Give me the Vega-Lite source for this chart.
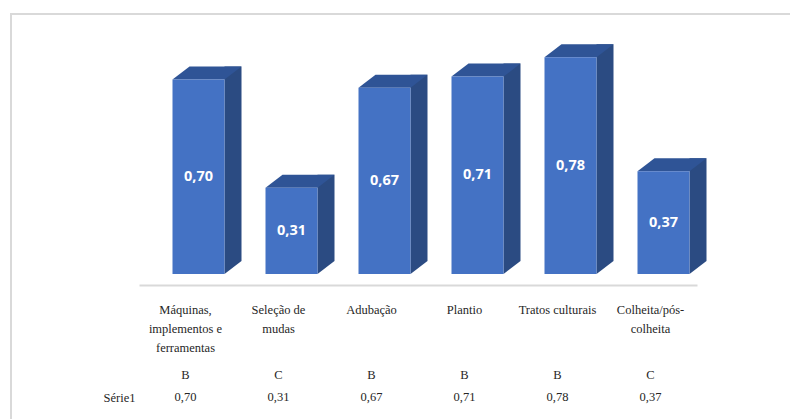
{
  "$schema": "https://vega.github.io/schema/vega-lite/v6.json",
  "autosize": "none",
  "padding": {"left": 11, "top": 14, "right": 0, "bottom": 0},
  "width": 790,
  "height": 420,
  "background": "white",
  "config": {
    "view": {"stroke": "#d9d9d9", "strokeWidth": 2},
    "locale": {"number": {"decimal": ",", "thousands": ".", "grouping": [3], "currency": ["", ""]}}
  },
  "data": {
    "values": [
      {"cat": "Máquinas, implementos e ferramentas", "value": 0.70, "grade": "B"},
      {"cat": "Seleção de mudas", "value": 0.31, "grade": "C"},
      {"cat": "Adubação", "value": 0.67, "grade": "B"},
      {"cat": "Plantio", "value": 0.71, "grade": "B"},
      {"cat": "Tratos culturais", "value": 0.78, "grade": "B"},
      {"cat": "Colheita/pós-colheita", "value": 0.37, "grade": "C"}
    ]
  },
  "encoding": {
    "x": {
      "field": "cat",
      "type": "nominal",
      "sort": null,
      "scale": {"type": "band", "range": [128, 686], "paddingInner": 0, "paddingOuter": 0},
      "axis": {
        "orient": "bottom",
        "offset": -149,
        "title": null,
        "ticks": false,
        "grid": false,
        "domainColor": "#d9d9d9",
        "domainWidth": 2,
        "labelPadding": 18,
        "labelAngle": 0,
        "labelFont": "Times New Roman",
        "labelFontSize": 12.5,
        "labelColor": "#262626",
        "labelLineHeight": 19,
        "labelBaseline": "top",
        "labelOverlap": false,
        "labelLimit": 0,
        "labelExpr": "datum.value == 'Máquinas, implementos e ferramentas' ? ['Máquinas,', 'implementos e', 'ferramentas'] : datum.value == 'Seleção de mudas' ? ['Seleção de', 'mudas'] : datum.value == 'Colheita/pós-colheita' ? ['Colheita/pós-', 'colheita'] : datum.value"
      }
    }
  },
  "layer": [
    {
      "layer": [
        {
          "mark": {"type": "bar", "width": 17, "xOffset": 47.5, "yOffset": -13, "y2Offset": -13, "color": "#2B4B82"},
          "encoding": {
            "y": {"field": "value", "type": "quantitative", "scale": {"domain": [0, 1], "range": [260, -18], "nice": false, "zero": true}, "axis": null},
            "y2": {"datum": 0}
          }
        },
        {
          "mark": {"type": "point", "shape": "M39,0L39,-13L56,-13Z", "size": 4, "filled": true, "opacity": 1, "color": "#2B4B82", "strokeWidth": 0},
          "encoding": {
            "y": {"datum": 0, "type": "quantitative", "axis": null}
          }
        },
        {
          "mark": {"type": "point", "shape": "M-13,0L39,0L56,-13L4,-13Z", "size": 4, "filled": true, "opacity": 1, "color": "#2F5496", "strokeWidth": 0},
          "encoding": {
            "y": {"field": "value", "type": "quantitative", "axis": null}
          }
        },
        {
          "mark": {"type": "bar", "width": 52, "xOffset": 13, "color": "#4472C4"},
          "encoding": {
            "y": {"field": "value", "type": "quantitative", "axis": null},
            "y2": {"datum": 0}
          }
        }
      ]
    },
    {
      "mark": {"type": "text", "font": "Open Sans", "fontWeight": "bold", "fontSize": 14.5, "color": "white", "xOffset": 13, "baseline": "middle", "align": "center"},
      "encoding": {
        "y": {"field": "value", "type": "quantitative", "scale": {"domain": [0, 2], "range": [260, -18], "nice": false, "zero": true}, "axis": null},
        "text": {"field": "value", "type": "quantitative", "format": ".2f"}
      }
    },
    {
      "layer": [
        {
          "mark": {"type": "text", "font": "Times New Roman", "fontSize": 12.5, "color": "#262626", "baseline": "middle", "align": "center"},
          "encoding": {
            "y": {
              "datum": "grade",
              "type": "ordinal",
              "scale": {"type": "point", "domain": ["grade", "value"], "range": [361, 383], "padding": 0},
              "axis": {
                "orient": "left",
                "offset": -128,
                "title": null,
                "ticks": false,
                "domain": false,
                "grid": false,
                "labelPadding": 4,
                "labelFont": "Times New Roman",
                "labelFontSize": 12.5,
                "labelColor": "#262626",
                "labelExpr": "datum.value == 'value' ? 'Série1' : ''"
              }
            },
            "text": {"field": "grade", "type": "nominal"}
          }
        },
        {
          "mark": {"type": "text", "font": "Times New Roman", "fontSize": 12.5, "color": "#262626", "baseline": "middle", "align": "center"},
          "encoding": {
            "y": {"datum": "value", "type": "ordinal"},
            "text": {"field": "value", "type": "quantitative", "format": ".2f"}
          }
        }
      ]
    }
  ],
  "resolve": {"scale": {"y": "independent"}, "axis": {"y": "independent"}}
}
